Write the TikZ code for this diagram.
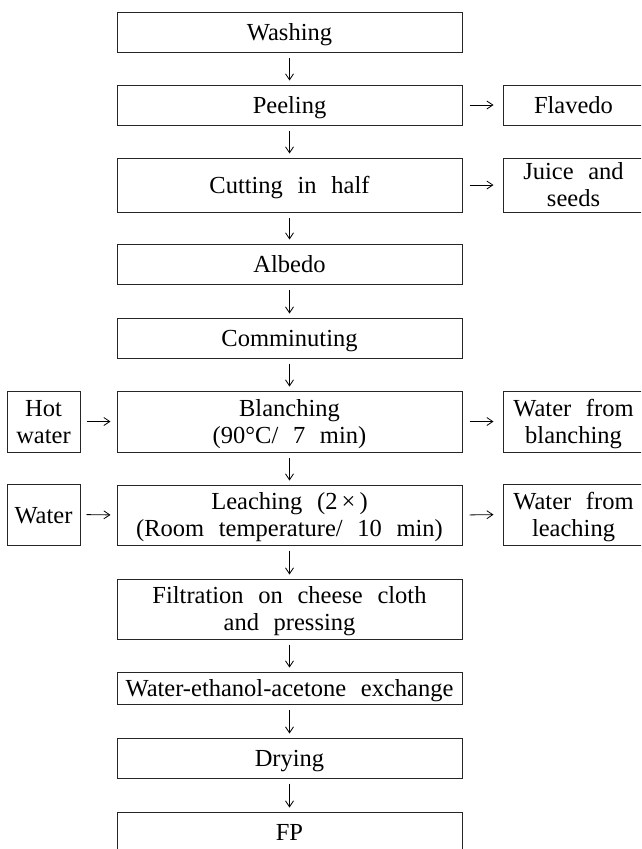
\documentclass[tikz,border=0pt]{standalone}
\usepackage{fontspec}
\setmainfont{Liberation Serif}[WordSpace=2.4]
\usetikzlibrary{arrows.meta}
\newcommand\boxone[1]{\raisebox{-8.8pt}[0pt][0pt]{#1}}
\newcommand\boxtwo[2]{\raisebox{5.5pt}[0pt][0pt]{\begin{tabular}[t]{@{}c@{}}#1\\#2\end{tabular}}}
\begin{document}
\begin{tikzpicture}[x=1pt,y=-1pt,
  box/.style={draw=black!85, line width=1pt, inner sep=0pt,
    font=\fontsize{24.5}{27}\selectfont},
  mainbox/.style={box, minimum width=345pt},
  rbox/.style={box, minimum width=141pt},
  lbox/.style={box, minimum width=73pt},
  flow/.style={line width=0.8pt, -{Straight Barb[length=6pt,width=8pt]}},
  down/.style={flow, shorten <=5pt, shorten >=4pt},
  right/.style={flow, shorten <=7pt, shorten >=9pt},
  inarr/.style={flow, shorten <=6pt, shorten >=6pt}]
\useasboundingbox (0,0) rectangle (641,849);
\clip (0,0) rectangle (641,849);
% main column
\node[mainbox, minimum height=40pt] (wash) at (289.5,32) {\boxone{Washing}};
\node[mainbox, minimum height=40pt] (peel) at (289.5,105) {\boxone{Peeling}};
\node[mainbox, minimum height=54pt] (cut) at (289.5,185) {\boxone{Cutting in half}};
\node[mainbox, minimum height=40pt] (alb) at (289.5,264) {\boxone{Albedo}};
\node[mainbox, minimum height=40pt] (comm) at (289.5,338) {\boxone{Comminuting}};
\node[mainbox, minimum height=61pt] (blanch) at (289.5,421.5) {\boxtwo{Blanching}{(90°C/ 7 min)}};
\node[mainbox, minimum height=60pt] (leach) at (289.5,515) {\boxtwo{Leaching (2\,×\,)}{(Room temperature/ 10 min)}};
\node[mainbox, minimum height=60pt] (filt) at (289.5,609) {\boxtwo{Filtration on cheese cloth}{and pressing}};
\node[mainbox, minimum height=32pt] (wea) at (289.5,688) {\boxone{Water-ethanol-acetone exchange}};
\node[mainbox, minimum height=40pt] (dry) at (289.5,758) {\boxone{Drying}};
\node[mainbox, minimum height=40pt] (fp) at (289.5,832) {\boxone{FP}};
% right column
\node[rbox, minimum height=40pt] (flav) at (573.5,105) {\boxone{Flavedo}};
\node[rbox, minimum height=54pt] (juice) at (573.5,185) {\boxtwo{Juice and}{seeds}};
\node[rbox, minimum height=61pt] (wfb) at (573.5,421.5) {\boxtwo{Water from}{blanching}};
\node[rbox, minimum height=61pt] (wfl) at (573.5,514.5) {\boxtwo{Water from}{leaching}};
% left column
\node[lbox, minimum height=61pt] (hot) at (43.5,421.5) {\boxtwo{Hot}{water}};
\node[lbox, minimum height=61pt] (water) at (43.5,514.5) {\boxone{Water}};
% vertical arrows
\draw[down] (wash) -- (peel);
\draw[down] (peel) -- (cut);
\draw[down] (cut) -- (alb);
\draw[down] (alb) -- (comm);
\draw[down] (comm) -- (blanch);
\draw[down] (blanch) -- (leach);
\draw[down] (leach) -- (filt);
\draw[down] (filt) -- (wea);
\draw[down] (wea) -- (dry);
\draw[down] (dry) -- (fp);
% side arrows
\draw[right] (peel.east) -- (flav.west);
\draw[right] (cut.east) -- (juice.west);
\draw[right] (blanch.east) -- (wfb.west);
\draw[right] (leach.east) -- (wfl.west);
\draw[inarr] (hot.east) -- (blanch.west);
\draw[inarr] (water.east) -- (leach.west);
\end{tikzpicture}
\end{document}
